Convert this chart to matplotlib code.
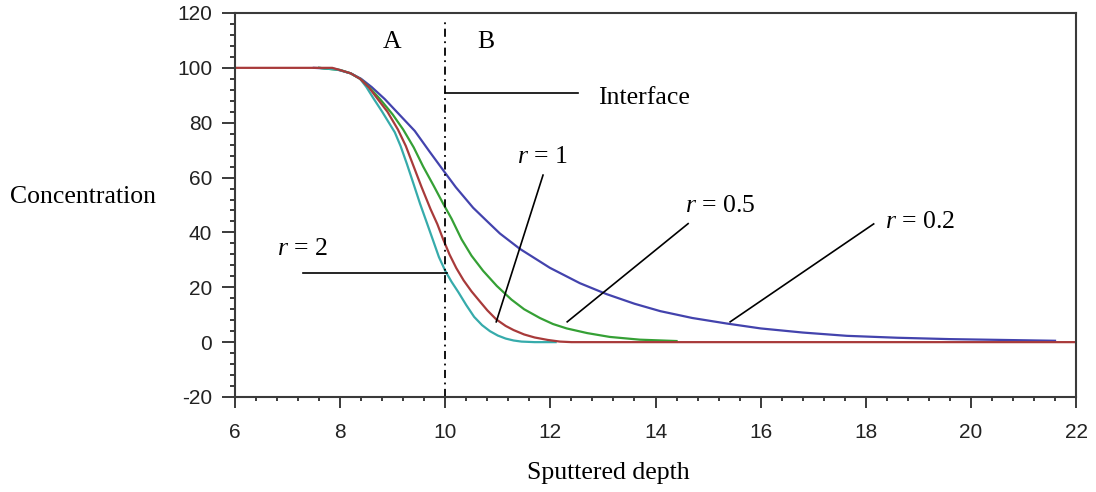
import matplotlib
matplotlib.use("Agg")
from matplotlib import pyplot as plt

plt.rcParams['mathtext.fontset'] = 'custom'
plt.rcParams['mathtext.rm'] = 'Liberation Serif'
plt.rcParams['mathtext.it'] = 'Liberation Serif:italic'
plt.rcParams['axes.unicode_minus'] = False

# concentration profiles for different sputter-rate ratios r
depth_r02 = [7.5, 7.9, 8.2, 8.4, 8.6, 8.85, 9.1, 9.42, 9.7, 9.96, 10.2, 10.53, 10.8, 11.04, 11.42,
             11.99, 12.56, 13.07, 13.6, 14.09, 14.7, 15.35, 16.0, 16.8, 17.64, 18.6, 19.6, 21.6]
conc_r02 = [100, 99.6, 98, 96, 93, 88.6, 83.5, 77.0, 69.5, 62.7, 56.5, 49, 44, 39.6, 34.0,
            27.1, 21.5, 17.5, 14, 11.3, 8.8, 6.8, 5.0, 3.5, 2.3, 1.6, 1.1, 0.5]

depth_r05 = [7.6, 8.0, 8.2, 8.38, 8.55, 8.76, 9.0, 9.2, 9.4, 9.58, 9.78, 9.96, 10.12, 10.31, 10.5,
             10.72, 10.98, 11.26, 11.5, 11.8, 12.05, 12.31, 12.7, 13.13, 13.7, 14.4]
conc_r05 = [100, 99.2, 98, 96, 93, 88.6, 83, 77.5, 71, 64, 57, 50.5, 45, 37.5, 31.5,
            26, 20.5, 15.5, 12, 8.8, 6.6, 5.0, 3.3, 1.9, 0.9, 0.4]

depth_r1 = [6.0, 7.85, 8.0, 8.2, 8.38, 8.55, 8.7, 8.9, 9.1, 9.25, 9.39, 9.55, 9.72, 9.85, 9.96,
            10.08, 10.21, 10.35, 10.5, 10.66, 10.8, 10.97, 11.15, 11.3, 11.5, 11.7, 11.95, 12.18,
            12.4, 22.0]
conc_r1 = [100, 100, 99.2, 98, 96, 92.8, 89, 84, 77.5, 71.5, 64.5, 56.5, 48.5, 43, 37.5,
           32, 27, 22.5, 18.5, 14.8, 11.6, 8.3, 5.9, 4.4, 2.8, 1.7, 0.8, 0.2,
           0, 0]

depth_r2 = [7.6, 8.0, 8.2, 8.38, 8.5, 8.63, 8.8, 9.04, 9.15, 9.27, 9.4, 9.52, 9.65, 9.77, 9.88,
            10.0, 10.12, 10.25, 10.4, 10.55, 10.7, 10.85, 11.0, 11.15, 11.3, 11.45, 11.7, 12.1]
conc_r2 = [100, 99.2, 98, 96, 93, 89, 84, 76.5, 71.5, 65, 57.5, 50.5, 43.5, 37, 31,
           26, 22, 18.2, 13.5, 9.2, 6.2, 4.0, 2.4, 1.3, 0.6, 0.2, 0, 0]

fig = plt.figure(figsize=(10.96, 4.92), dpi=100)
ax = fig.add_axes([0.2144, 0.1931, 0.9818 - 0.2144, 0.9736 - 0.1931])

ax.plot(depth_r02, conc_r02, color='#4343ad', lw=1.6)
ax.plot(depth_r05, conc_r05, color='#35a035', lw=1.6)
ax.plot(depth_r2, conc_r2, color='#36abab', lw=1.6)
ax.plot(depth_r1, conc_r1, color='#a83a3a', lw=1.6)

# interface marker
ax.plot([10, 10], [-20, 118], color='black', lw=1.3, dashes=(4.5, 2.5, 1, 2.5))

ax.set_xlim(6, 22)
ax.set_ylim(-20, 120)
ax.set_xticks(range(6, 23, 2))
ax.set_yticks(range(-20, 121, 20))
ax.set_xticks([6 + 0.4 * i for i in range(41)], minor=True)
ax.set_yticks(range(-20, 121, 4), minor=True)

for s in ax.spines.values():
    s.set_color('#3a3a3a')
    s.set_linewidth(1.5)

ax.tick_params(which='both', direction='out', color='#3a3a3a', width=1.4,
               top=False, right=False)
ax.tick_params(axis='y', which='major', length=9.5, pad=7)
ax.tick_params(axis='y', which='minor', length=3.6)
ax.tick_params(axis='x', which='major', length=8, pad=11)
ax.tick_params(axis='x', which='minor', length=3.2)
for lab in ax.get_xticklabels() + ax.get_yticklabels():
    lab.set_fontfamily('Liberation Sans')
    lab.set_fontsize(15)
    lab.set_color('#222222')

serif = dict(family='Liberation Serif', fontsize=18.5, color='black')

ax.text(8.98, 109.5, 'A', ha='center', va='center', **serif)
ax.text(10.78, 109.5, 'B', ha='center', va='center', **serif)

ax.plot([10.0, 12.53], [90.8, 90.8], color='black', lw=1.2)
ax.text(12.91, 89.1, 'Interface', ha='left', va='center', **serif)

ax.plot([11.86, 10.97], [60.9, 7.4], color='black', lw=1.2)
ax.text(11.36, 67.6, '$r$ = 1', ha='left', va='center', **serif)

ax.plot([14.62, 12.32], [43.2, 7.4], color='black', lw=1.2)
ax.text(14.56, 49.8, '$r$ = 0.5', ha='left', va='center', **serif)

ax.plot([18.15, 15.42], [43.1, 7.4], color='black', lw=1.2)
ax.text(18.37, 43.7, '$r$ = 0.2', ha='left', va='center', **serif)

ax.plot([7.30, 10.03], [25.2, 25.2], color='black', lw=1.2)
ax.text(6.79, 33.8, '$r$ = 2', ha='left', va='center', **serif)

fig.text(10 / 1096, 1 - 197 / 492, 'Concentration', ha='left', va='center', **serif)
fig.text(527 / 1096, 1 - 473 / 492, 'Sputtered depth', ha='left', va='center', **serif)

fig.savefig('out.png', dpi=100)
